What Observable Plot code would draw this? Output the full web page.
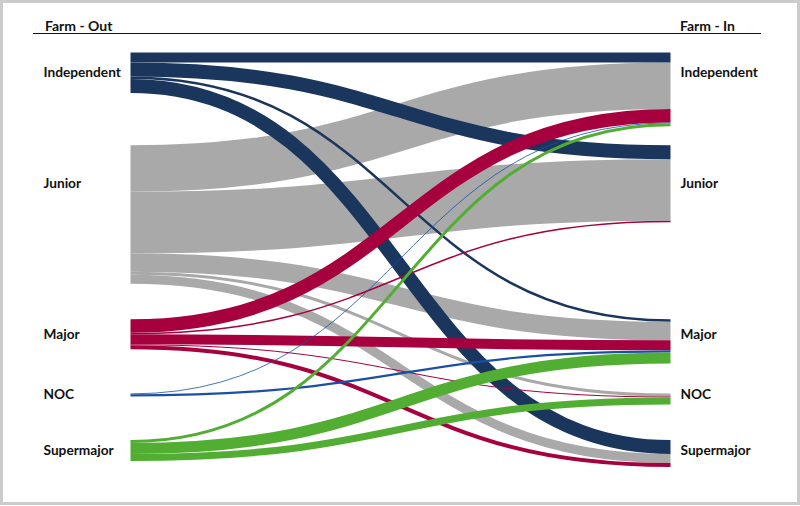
<!DOCTYPE html>
<html><head><meta charset="utf-8">
<script src="https://cdn.jsdelivr.net/npm/d3@7"></script>
<script src="https://cdn.jsdelivr.net/npm/@observablehq/plot@0.6"></script>
<style>
html,body{margin:0;padding:0;background:#fff;}
#wrap{position:relative;width:800px;height:506px;overflow:hidden;font-family:Lato,sans-serif;}
#chart{position:absolute;left:0;top:0;}
#frame{position:absolute;left:0;top:0;width:800px;height:505px;box-sizing:border-box;border:3px solid #cbcbcb;pointer-events:none;}
.hdr{position:absolute;top:17px;font-family:Lato,sans-serif;font-weight:bold;font-size:14px;color:#111;}
#rule{position:absolute;left:33px;top:33px;width:728px;height:0;border-top:1.6px solid #111;}
</style></head><body>
<div id="wrap">
  <div id="chart"></div>
  <div class="hdr" style="left:45px">Farm - Out</div>
  <div class="hdr" style="left:680px">Farm - In</div>
  <div id="rule"></div>
  <div id="frame"></div>
</div>
<script>
// ---- data ----
const categories = ["Independent", "Junior", "Major", "NOC", "Supermajor"];
const sources = ["Independent","Independent","Independent","Independent",
                 "Junior","Junior","Junior","Junior","Junior",
                 "Major","Major","Major","Major","Major",
                 "NOC","NOC",
                 "Supermajor","Supermajor","Supermajor"];
const targets = ["Independent","Junior","Major","Supermajor",
                 "Independent","Junior","Major","NOC","Supermajor",
                 "Independent","Junior","Major","NOC","Supermajor",
                 "Independent","Major",
                 "Independent","Major","NOC"];
const values  = [10, 14, 2.5, 14,
                 46.5, 61.5, 18.5, 3, 9,
                 13.5, 1.5, 10, 1, 4,
                 0.8, 2.2,
                 3, 11, 7];

// ---- styles / layout ----
const palette = ["#1b365d", "#a9a9a9", "#a6003f", "#1a4fa6", "#52ae32"];
const slotGap = [0, 19, 35.5, 30, 35.5];   // padding before each category slot (value units)
const drawOrder = ["Junior", "Independent", "Major", "NOC", "Supermajor"];

const links = sources.map((s, i) => ({source: s, target: targets[i], value: values[i]}));
const idx = c => categories.indexOf(c);
const outSum = c => d3.sum(links.filter(l => l.source === c), l => l.value);
const inSum = c => d3.sum(links.filter(l => l.target === c), l => l.value);

const slotTop = {};
let acc = 0;
categories.forEach((c, i) => {
  acc += slotGap[i];
  slotTop[c] = acc;
  acc += Math.max(outSum(c), inSum(c));
});
const total = acc;

categories.forEach(c => {
  let y = slotTop[c];
  links.filter(l => l.source === c).sort((a, b) => idx(a.target) - idx(b.target))
    .forEach(l => { l.y0 = y + l.value / 2; y += l.value; });
  y = slotTop[c];
  links.filter(l => l.target === c).sort((a, b) => idx(a.source) - idx(b.source))
    .forEach(l => { l.y1 = y + l.value / 2; y += l.value; });
});
links.forEach(l => { l.xa = 0; l.xb = 1; });
const ordered = drawOrder.flatMap(c => links.filter(l => l.source === c));

const labels = categories.map(c => ({name: c, y: slotTop[c] + Math.min(outSum(c), inSum(c)) / 2, xl: 0, xr: 1}));

const yRange = [52, 466.5];
const k = (yRange[1] - yRange[0]) / total;

const chart = Plot.plot({
  width: 800,
  height: 506,
  margin: 0,
  style: {fontFamily: "Lato, sans-serif", background: "transparent"},
  x: {domain: [0, 1], range: [130, 670], axis: null},
  y: {domain: [0, total], range: yRange, axis: null},
  color: {domain: categories, range: palette},
  marks: [
    Plot.link(ordered, {
      x1: "xa", x2: "xb", y1: "y0", y2: "y1",
      stroke: "source",
      strokeWidth: d => d.value * k,
      strokeOpacity: 1,
      curve: "bump-x"
    }),
    Plot.text(labels, {x: "xl", y: "y", text: "name", dx: -87, textAnchor: "start",
      fontWeight: "bold", fontSize: 13.7, fill: "#111"}),
    Plot.text(labels, {x: "xr", y: "y", text: "name", dx: 10, textAnchor: "start",
      fontWeight: "bold", fontSize: 13.7, fill: "#111"})
  ]
});
document.getElementById("chart").appendChild(chart);
</script>
</body></html>
